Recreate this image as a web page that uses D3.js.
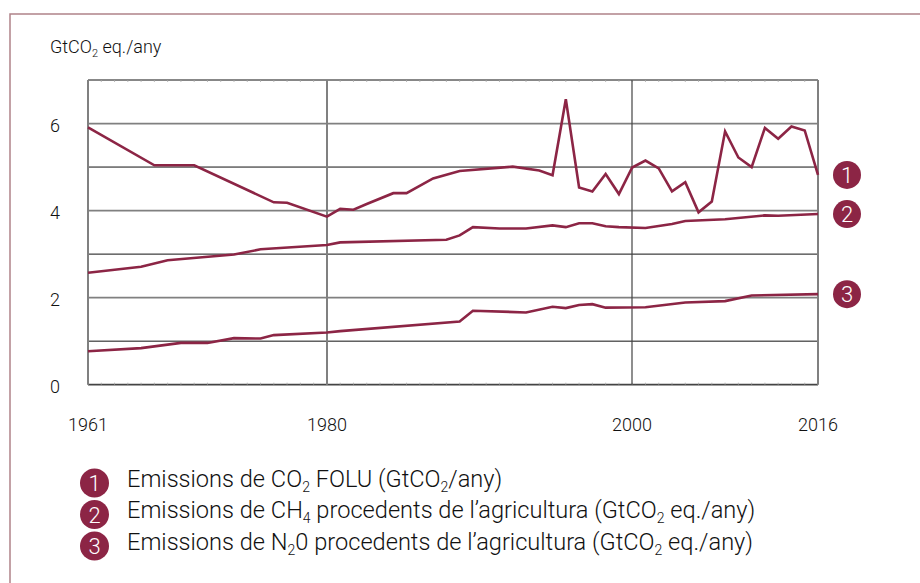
<!DOCTYPE html>
<html>
<head>
<meta charset="utf-8">
<script src="https://cdn.jsdelivr.net/npm/d3@7"></script>
<style>
  body { margin: 0; background: #fff; }
  svg text { font-family: Roboto, "Liberation Sans", Arial, sans-serif; font-weight: 300; fill: #111; }
</style>
</head>
<body>
<svg id="chart" width="920" height="583"></svg>
<script>
// series 1: CO2 FOLU
const folYears = [1961, 1966, 1969, 1975, 1976, 1979, 1980, 1981, 1982, 1984, 1985, 1987, 1989, 1993, 1995, 1996, 1997, 1998, 1999, 2000, 2001, 2002, 2003, 2004, 2005, 2006, 2007, 2008, 2009, 2010, 2011, 2012, 2013, 2014, 2015, 2016];
const folValues = [5.91, 5.04, 5.04, 4.19, 4.18, 3.86, 4.04, 4.02, 4.15, 4.40, 4.40, 4.74, 4.91, 5.01, 4.92, 4.81, 6.56, 4.53, 4.44, 4.84, 4.38, 4.99, 5.15, 4.97, 4.44, 4.65, 3.96, 4.21, 5.82, 5.22, 5.00, 5.90, 5.65, 5.93, 5.84, 4.82];

// series 2: CH4 agriculture
const ch4Years = [1961, 1965, 1967, 1972, 1974, 1979, 1980, 1988, 1989, 1990, 1992, 1994, 1996, 1997, 1998, 1999, 2000, 2001, 2003, 2005, 2006, 2009, 2012, 2013, 2016];
const ch4Values = [2.57, 2.71, 2.86, 2.99, 3.11, 3.21, 3.27, 3.33, 3.43, 3.62, 3.59, 3.59, 3.66, 3.62, 3.71, 3.71, 3.64, 3.62, 3.60, 3.69, 3.76, 3.80, 3.89, 3.88, 3.92];

// series 3: N2O agriculture
const n2oYears = [1961, 1965, 1968, 1970, 1972, 1974, 1975, 1979, 1980, 1989, 1990, 1994, 1996, 1997, 1998, 1999, 2000, 2003, 2006, 2009, 2011, 2016];
const n2oValues = [0.77, 0.84, 0.96, 0.96, 1.07, 1.06, 1.14, 1.20, 1.23, 1.45, 1.70, 1.66, 1.79, 1.76, 1.83, 1.85, 1.77, 1.78, 1.89, 1.92, 2.05, 2.08];

const yTickValues = [0, 2, 4, 6];
const xTickLabels = [1961, 1980, 2000, 2016];

// legend texts, [text, subscript?] pieces
const legendRows = [
  [["Emissions de CO"], ["2", true], [" FOLU (GtCO"], ["2", true], ["/any)"]],
  [["Emissions de CH"], ["4", true], [" procedents de l\u2019agricultura (GtCO"], ["2", true], [" eq./any)"]],
  [["Emissions de N"], ["2", true], ["0 procedents de l\u2019agricultura (GtCO"], ["2", true], [" eq./any)"]]
];

const wine = "#8c2545";
const svg = d3.select("#chart");

// frame
svg.append("path")
  .attr("d", "M10,583 V14 H920")
  .attr("fill", "none")
  .attr("stroke", "#b08389")
  .attr("stroke-width", 1.5);

const x = d3.scaleLinear().domain([1961, 2016]).range([88, 818]);
// axis labels sit where the printed chart put them
const xLab = d3.scaleLinear().domain([1961, 1980, 2000, 2016]).range([88, 327, 632, 818]);
const y = d3.scaleLinear().domain([0, 7]).range([384.7, 80]);

const grid = svg.append("g");

// horizontal lines
grid.selectAll(".h")
  .data(d3.range(0, 8))
  .enter().append("line")
  .attr("x1", x(1961)).attr("x2", x(2016))
  .attr("y1", d => y(d)).attr("y2", d => y(d))
  .attr("stroke", d => d === 0 ? "#444" : (d % 2 === 0 ? "#808080" : "#111"))
  .attr("stroke-width", d => d % 2 === 0 ? 1.8 : 1);

// small year ticks on top and bottom edges
const years = d3.range(1961, 2017);
grid.selectAll(".tt")
  .data(years)
  .enter().append("line")
  .attr("x1", d => x(d)).attr("x2", d => x(d))
  .attr("y1", y(7)).attr("y2", y(7) + 2)
  .attr("stroke", "#aaa").attr("stroke-width", 0.8);
grid.selectAll(".tb")
  .data(years)
  .enter().append("line")
  .attr("x1", d => x(d)).attr("x2", d => x(d))
  .attr("y1", y(0) - 2).attr("y2", y(0))
  .attr("stroke", "#aaa").attr("stroke-width", 0.8);

// vertical lines
grid.selectAll(".v")
  .data(xTickLabels)
  .enter().append("line")
  .attr("x1", d => xLab(d)).attr("x2", d => xLab(d))
  .attr("y1", y(7)).attr("y2", y(0))
  .attr("stroke", d => d === 2000 ? "#444" : "#808080")
  .attr("stroke-width", d => d === 2000 ? 1.2 : 2);

// y tick labels
svg.selectAll(".yl")
  .data(yTickValues)
  .enter().append("text")
  .attr("x", 50)
  .attr("y", d => y(d) + 8)
  .style("font-size", "18px")
  .text(d => d);

// x tick labels
svg.selectAll(".xl")
  .data(xTickLabels)
  .enter().append("text")
  .attr("x", d => xLab(d))
  .attr("y", 431)
  .attr("text-anchor", "middle")
  .style("font-size", "18px")
  .text(d => d);

// y title
const title = svg.append("text").attr("x", 50).attr("y", 53).style("font-size", "18px");
title.append("tspan").text("GtCO");
title.append("tspan").attr("dy", 4).style("font-size", "11px").text("2");
title.append("tspan").attr("dy", -4).text(" eq./any");

// lines
const line = d3.line().x(d => x(d[0])).y(d => y(d[1]));
const series = [
  d3.zip(folYears, folValues),
  d3.zip(ch4Years, ch4Values),
  d3.zip(n2oYears, n2oValues)
];

svg.selectAll(".series")
  .data(series)
  .enter().append("path")
  .attr("d", line)
  .attr("fill", "none")
  .attr("stroke", wine)
  .attr("stroke-width", 2.6)
  .attr("stroke-linejoin", "miter");

// end badges
const badges = svg.selectAll(".badge")
  .data(series)
  .enter().append("g")
  .attr("transform", d => "translate(847," + y(d[d.length - 1][1]) + ")");
badges.append("circle").attr("r", 14).attr("fill", wine);
badges.append("text")
  .attr("text-anchor", "middle")
  .attr("y", 8)
  .style("font-size", "22px")
  .style("fill", "#fff")
  .text((d, i) => i + 1);

// legend
const legend = svg.selectAll(".leg")
  .data(legendRows)
  .enter().append("g")
  .attr("transform", (d, i) => "translate(0," + (483 + i * 31.5) + ")");
legend.append("circle").attr("cx", 94.5).attr("r", 14.5).attr("fill", wine);
legend.append("text")
  .attr("x", 94.5)
  .attr("y", 8)
  .attr("text-anchor", "middle")
  .style("font-size", "22px")
  .style("fill", "#fff")
  .text((d, i) => i + 1);
legend.append("text")
  .attr("x", 127)
  .attr("y", 8.5)
  .style("font-size", "23.6px")
  .each(function(parts) {
    const t = d3.select(this);
    parts.forEach(p => {
      if (p[1]) {
        t.append("tspan").attr("dy", 5).style("font-size", "14px").text(p[0]);
      } else {
        t.append("tspan").attr("dy", t.selectAll("tspan").size() ? -5 : 0).text(p[0]);
      }
    });
  });
</script>
</body>
</html>
